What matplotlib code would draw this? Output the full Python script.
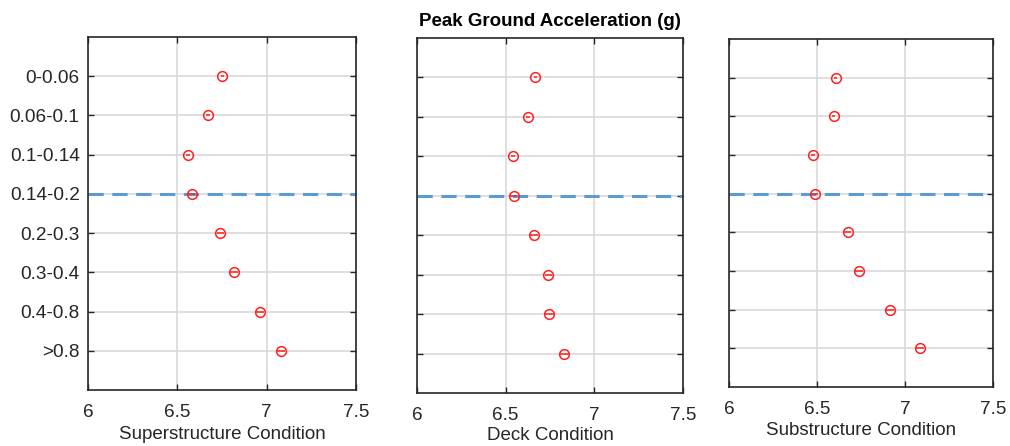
import matplotlib
matplotlib.use("Agg")
import matplotlib.pyplot as plt

plt.rcParams['font.family'] = ['Liberation Sans', 'DejaVu Sans']

# PGA bins (top to bottom)
categories = ['0-0.06', '0.06-0.1', '0.1-0.14', '0.14-0.2',
              '0.2-0.3', '0.3-0.4', '0.4-0.8', '>0.8']

# mean condition rating per PGA bin
superstructure = [6.752, 6.672, 6.561, 6.580, 6.741, 6.819, 6.961, 7.080]
deck = [6.666, 6.626, 6.540, 6.545, 6.660, 6.741, 6.745, 6.831]
substructure = [6.606, 6.595, 6.479, 6.487, 6.676, 6.740, 6.913, 7.085]

# half-width of the confidence interval for each mean
superstructure_ci = [0.008, 0.010, 0.012, 0.018, 0.020, 0.022, 0.025, 0.025]
deck_ci = [0.008, 0.010, 0.012, 0.018, 0.020, 0.022, 0.025, 0.025]
substructure_ci = [0.008, 0.010, 0.012, 0.018, 0.020, 0.022, 0.025, 0.025]

xlabels = ['Superstructure Condition', 'Deck Condition', 'Substructure Condition']
x_ticks = [6, 6.5, 7, 7.5]
threshold_bin = '0.14-0.2'

W, H = 1010, 446
fig = plt.figure(figsize=(W / 100, H / 100), dpi=100)

# axes boxes in pixels: left, top, right, bottom
boxes = [(88, 37, 356, 390), (417, 38, 683, 393), (729, 39, 993, 387)]
labelpads = [4, 2, 3]
series = [superstructure, deck, substructure]
cis = [superstructure_ci, deck_ci, substructure_ci]

ypos = list(range(1, len(categories) + 1))
yline = categories.index(threshold_bin) + 1

for i, ((l, t, r, b), vals, ci, xl) in enumerate(zip(boxes, series, cis, xlabels)):
    ax = fig.add_axes([l / W, 1 - b / H, (r - l) / W, (b - t) / H])
    ax.set_xlim(6, 7.5)
    ax.set_ylim(len(categories) + 1, 0)
    ax.grid(True, color='#d6d6d6', linewidth=1.1)
    ax.set_axisbelow(True)
    ax.axhline(yline, color='#5b9bd5', linewidth=2.2, linestyle=(0, (5, 2.8)), zorder=2)
    ax.errorbar(vals, ypos, xerr=ci, fmt='o', color='#ff2020', ecolor='#ff2020',
                mfc='none', mec='#ff2020', ms=7, mew=1.1, elinewidth=1.1,
                capsize=0, zorder=3)
    ax.set_xticks(x_ticks)
    ax.set_xticklabels(['6', '6.5', '7', '7.5'])
    ax.set_yticks(ypos)
    if i == 0:
        ax.set_yticklabels(categories)
    else:
        ax.set_yticklabels([])
    ax.tick_params(direction='in', length=4, width=1.0, colors='#262626',
                   top=True, right=True, labelsize=13.7, labelcolor='#262626')
    ax.tick_params(axis='x', pad=10)
    ax.tick_params(axis='y', pad=6)
    for s in ax.spines.values():
        s.set_color('#262626')
        s.set_linewidth(1.2)
    ax.set_xlabel(xl, fontsize=13.5, color='#262626', labelpad=labelpads[i])

fig.text(550 / W, 1 - 22 / H, 'Peak Ground Acceleration (g)', ha='center',
         va='center', fontsize=13.5, fontweight='bold', color='black')

fig.savefig('out.png', dpi=100)
